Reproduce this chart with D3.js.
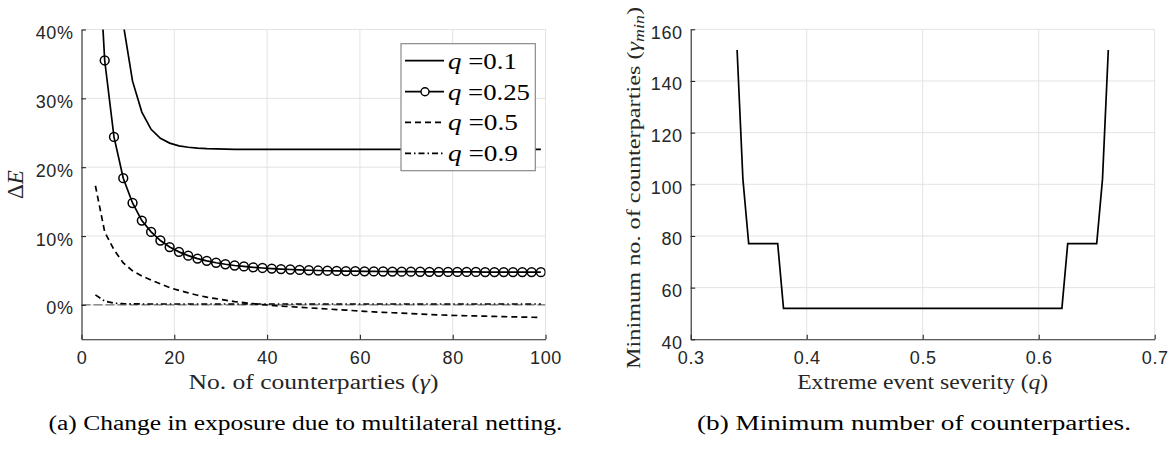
<!DOCTYPE html>
<html>
<head>
<meta charset="utf-8">
<script src="https://cdn.jsdelivr.net/npm/d3@7/dist/d3.min.js"></script>
<style>
  html, body { margin: 0; padding: 0; background: #fff; }
  svg { display: block; }
</style>
</head>
<body>
<svg id="chart" width="1176" height="449"></svg>
<script>
// ---------------- DATA ----------------
// (a) change in exposure, gamma = number of counterparties
const gamma = [3,5,7,9,11,13,15,17,19,21,23,25,27,29,31,33,35,37,39,41,43,45,47,49,
               51,53,55,57,59,61,63,65,67,69,71,73,75,77,79,81,83,85,87,89,91,93,95,97,99];
const dE_q010 = [140,80,55,40.8,32.5,28.0,25.5,24.2,23.5,23.1,22.9,22.78,22.7,22.65,22.62,22.6,22.6,22.6,22.6,22.6,
                 22.6,22.6,22.6,22.6,22.6,22.6,22.6,22.6,22.6,22.6,22.6,22.6,22.6,22.6,22.6,22.6,22.6,22.6,22.6,22.6,
                 22.6,22.6,22.6,22.6,22.6,22.6,22.6,22.6,22.6];
const dE_q025 = [60,35.5,24.4,18.4,14.8,12.25,10.6,9.35,8.4,7.7,7.15,6.72,6.4,6.12,5.9,5.72,5.58,5.46,5.36,5.28,
                 5.2,5.14,5.08,5.03,4.99,4.96,4.93,4.91,4.89,4.87,4.86,4.85,4.84,4.83,4.82,4.81,4.8,4.8,4.79,4.79,
                 4.78,4.78,4.77,4.77,4.77,4.76,4.76,4.76,4.75];
const dE_q050 = [17.3,10.6,8.0,6.1,4.95,4.2,3.6,3.05,2.5,2.1,1.75,1.4,1.12,0.9,0.68,0.48,0.32,0.17,0.04,-0.07,
                 -0.17,-0.26,-0.34,-0.43,-0.52,-0.6,-0.68,-0.76,-0.85,-0.94,-1.02,-1.08,-1.14,-1.2,-1.27,-1.33,-1.4,-1.46,-1.5,-1.54,
                 -1.58,-1.61,-1.64,-1.68,-1.71,-1.74,-1.77,-1.8,-1.84];
const dE_q090 = [1.45,0.55,0.25,0.17,0.14,0.13,0.13,0.13,0.13,0.13,0.13,0.13,0.13,0.13,0.13,0.13,0.13,0.13,0.13,0.13,
                 0.13,0.13,0.13,0.13,0.13,0.13,0.13,0.13,0.13,0.13,0.13,0.13,0.13,0.13,0.13,0.13,0.13,0.13,0.13,0.13,
                 0.13,0.13,0.13,0.13,0.13,0.13,0.13,0.13,0.13];
const seriesNamesA = ["0.1","0.25","0.5","0.9"];

// (b) minimum number of counterparties vs extreme event severity
const qSeverity = [0.34,0.345,0.35,0.375,0.38,0.62,0.625,0.65,0.655,0.66];
const gammaMin  = [152,102,77,77,52,52,77,77,102,152];

// ticks
const xTicksA = [0,20,40,60,80,100];
const yTicksA = [0,10,20,30,40];
const xTicksB = [0.3,0.4,0.5,0.6,0.7];
const yTicksB = [40,60,80,100,120,140,160];

// ---------------- DRAW ----------------
const svg = d3.select("#chart");
const AX = "#262626", GRID = "#e3e3e3";
const SANS = "'Liberation Sans', Arial, Helvetica, sans-serif";
const SERIF = "'Liberation Serif', 'Times New Roman', serif";

svg.append("rect").attr("width",1176).attr("height",449).attr("fill","#fff");

function drawGrid(g, x, y, xt, yt) {
  g.append("g").selectAll("line").data(xt.filter(v => v !== x.domain()[0])).join("line")
    .attr("x1", d => x(d)).attr("x2", d => x(d))
    .attr("y1", y.range()[0]).attr("y2", y.range()[1])
    .attr("stroke", GRID).attr("stroke-width", 1);
  g.append("g").selectAll("line").data(yt.filter(v => v !== y.domain()[0])).join("line")
    .attr("y1", d => y(d)).attr("y2", d => y(d))
    .attr("x1", x.range()[0]).attr("x2", x.range()[1])
    .attr("stroke", GRID).attr("stroke-width", 1);
}
function styleAxis(sel) {
  sel.select(".domain").attr("stroke", AX).attr("stroke-width", 1.1);
  sel.selectAll(".tick line").attr("stroke", AX).attr("stroke-width", 1.1);
  sel.selectAll(".tick text").attr("fill", AX)
     .style("font-family", SANS).style("font-size", "18px").style("letter-spacing", "0.6px");
}

// ===== Panel (a) =====
const xA = d3.scaleLinear([0,100],[81.5,545.5]);
const yA = d3.scaleLinear([-5,40],[339.3,29.5]);
const gA = svg.append("g");
drawGrid(gA, xA, yA, xTicksA, yTicksA);

svg.append("defs").append("clipPath").attr("id","clipA")
  .append("rect").attr("x",xA.range()[0]).attr("y",yA.range()[1])
  .attr("width",xA.range()[1]-xA.range()[0]).attr("height",yA.range()[0]-yA.range()[1]);

const plotA = gA.append("g").attr("clip-path","url(#clipA)");
// zero reference line
plotA.append("line").attr("x1",xA(0)).attr("x2",xA(100)).attr("y1",yA(0)).attr("y2",yA(0))
  .attr("stroke","#555").attr("stroke-width",1).attr("stroke-dasharray","9,3");

const lineA = vals => d3.line().x((d,i) => xA(gamma[i])).y(d => yA(d))(vals);
const styles = [
  {vals: dE_q010, dash: null, marker: false},
  {vals: dE_q025, dash: null, marker: true},
  {vals: dE_q050, dash: "6,4", marker: false},
  {vals: dE_q090, dash: "6,3,1.5,3", marker: false}
];
styles.forEach(s => {
  plotA.append("path").attr("d", lineA(s.vals)).attr("fill","none")
    .attr("stroke","#000").attr("stroke-width",1.7)
    .attr("stroke-dasharray", s.dash);
  if (s.marker) {
    plotA.append("g").selectAll("circle").data(s.vals).join("circle")
      .attr("cx",(d,i) => xA(gamma[i])).attr("cy", d => yA(d)).attr("r",4.4)
      .attr("fill","none").attr("stroke","#000").attr("stroke-width",1.5);
  }
});

const axLA = gA.append("g").attr("transform",`translate(${xA(0)},0)`)
  .call(d3.axisLeft(yA).tickValues(yTicksA).tickSizeInner(-4.5).tickSizeOuter(0).tickPadding(8)
        .tickFormat(d => d + "%"));
styleAxis(axLA);
axLA.selectAll(".tick text").attr("dy","0.5em");
const axBA = gA.append("g").attr("transform",`translate(0,${yA(-5)})`)
  .call(d3.axisBottom(xA).tickValues(xTicksA).tickSizeInner(-4.5).tickSizeOuter(0).tickPadding(12)
        .tickFormat(d3.format("d")));
styleAxis(axBA);

// legend
const leg = gA.append("g");
leg.append("rect").attr("x",401).attr("y",43.7).attr("width",134.3).attr("height",127)
  .attr("fill","#fff").attr("stroke","#808080").attr("stroke-width",1.1);
const legY = [60.7, 91.7, 122.3, 153.3];
const legW = [69, 82, 70, 70];
styles.forEach((s,i) => {
  leg.append("line").attr("x1",405).attr("x2",444).attr("y1",legY[i]).attr("y2",legY[i])
    .attr("stroke","#000").attr("stroke-width",1.7).attr("stroke-dasharray", s.dash);
  if (s.marker) leg.append("circle").attr("cx",425).attr("cy",legY[i]).attr("r",4)
    .attr("fill","#fff").attr("stroke","#000").attr("stroke-width",1.4);
  const t = leg.append("text").attr("x",448).attr("y",legY[i]+8)
    .attr("textLength", legW[i]).attr("lengthAdjust","spacingAndGlyphs")
    .style("font-family",SERIF).style("font-size","24px").attr("fill","#000");
  t.append("tspan").style("font-style","italic").text("q");
  t.append("tspan").text(" =" + seriesNamesA[i]);
});

// labels
const xlabA = svg.append("text").attr("x",313.5).attr("y",389).attr("text-anchor","middle")
  .attr("textLength",250).attr("lengthAdjust","spacingAndGlyphs")
  .style("font-family",SERIF).style("font-size","20px").attr("fill",AX);
xlabA.append("tspan").text("No. of counterparties (");
xlabA.append("tspan").style("font-style","italic").text("γ");
xlabA.append("tspan").text(")");

const ylabA = svg.append("text").attr("transform","translate(23,184.5) rotate(-90)").attr("text-anchor","middle")
  .style("font-family",SERIF).style("font-size","23px").attr("fill",AX);
ylabA.append("tspan").text("Δ");
ylabA.append("tspan").style("font-style","italic").text("E");

svg.append("text").attr("x",305.5).attr("y",430).attr("text-anchor","middle")
  .attr("textLength",514).attr("lengthAdjust","spacingAndGlyphs")
  .style("font-family",SERIF).style("font-size","20px").attr("fill","#000")
  .text("(a)  Change in exposure due to multilateral netting.");

// ===== Panel (b) =====
const xB = d3.scaleLinear([0.3,0.7],[690.7,1154.7]);
const yB = d3.scaleLinear([40,160],[339.3,29.3]);
const gB = svg.append("g");
drawGrid(gB, xB, yB, xTicksB, yTicksB);

gB.append("path")
  .attr("d", d3.line().x((d,i) => xB(qSeverity[i])).y(d => yB(d))(gammaMin))
  .attr("fill","none").attr("stroke","#000").attr("stroke-width",1.7).attr("stroke-linejoin","miter");

const axLB = gB.append("g").attr("transform",`translate(${xB(0.3)},0)`)
  .call(d3.axisLeft(yB).tickValues(yTicksB).tickSizeInner(-4.5).tickSizeOuter(0).tickPadding(8)
        .tickFormat(d3.format("d")));
styleAxis(axLB);
axLB.selectAll(".tick text").attr("dy","0.5em");
const axBB = gB.append("g").attr("transform",`translate(0,${yB(40)})`)
  .call(d3.axisBottom(xB).tickValues(xTicksB).tickSizeInner(-4.5).tickSizeOuter(0).tickPadding(12)
        .tickFormat(d3.format(".1f")));
styleAxis(axBB);

const xlabB = svg.append("text").attr("x",922.7).attr("y",389).attr("text-anchor","middle")
  .attr("textLength",251).attr("lengthAdjust","spacingAndGlyphs")
  .style("font-family",SERIF).style("font-size","20px").attr("fill",AX);
xlabB.append("tspan").text("Extreme event severity (");
xlabB.append("tspan").style("font-style","italic").text("q");
xlabB.append("tspan").text(")");

const ylabB = svg.append("text").attr("transform","translate(640,188) rotate(-90)").attr("text-anchor","middle")
  .attr("textLength",362).attr("lengthAdjust","spacingAndGlyphs")
  .style("font-family",SERIF).style("font-size","19px").attr("fill",AX);
ylabB.append("tspan").text("Minimum no. of counterparties (");
ylabB.append("tspan").style("font-style","italic").text("γ");
ylabB.append("tspan").style("font-style","italic").style("font-size","14px").attr("dy","4").text("min");
ylabB.append("tspan").attr("dy","-4").text(")");

svg.append("text").attr("x",914).attr("y",430).attr("text-anchor","middle")
  .attr("textLength",434).attr("lengthAdjust","spacingAndGlyphs")
  .style("font-family",SERIF).style("font-size","20px").attr("fill","#000")
  .text("(b)  Minimum number of counterparties.");
</script>
</body>
</html>
